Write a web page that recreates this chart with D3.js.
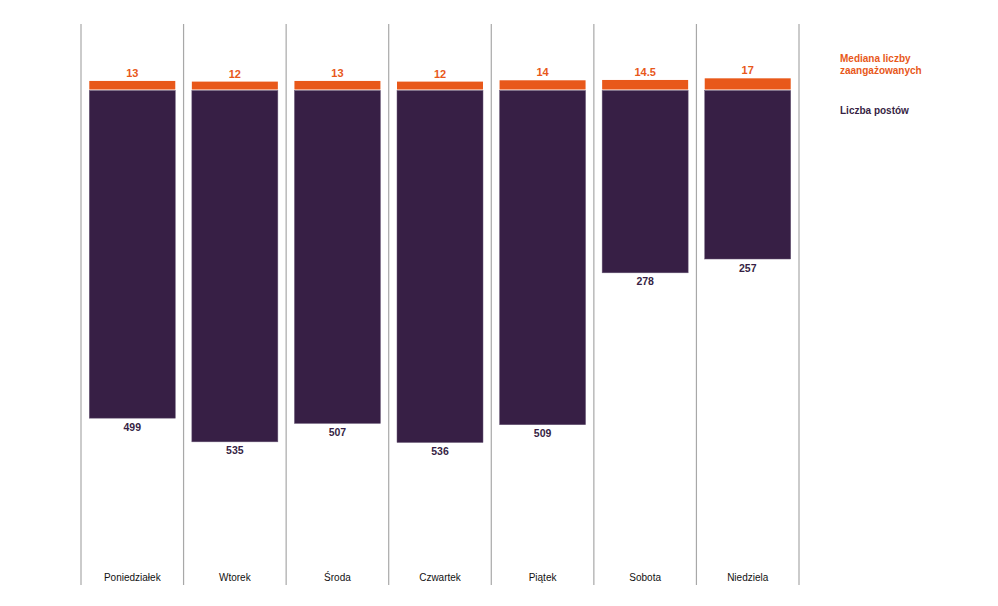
<!DOCTYPE html>
<html><head><meta charset="utf-8">
<script src="https://cdn.jsdelivr.net/npm/d3@7"></script>
<style>body{margin:0;background:#fff}svg{display:block;font-family:"Liberation Sans",Arial,sans-serif}</style>
</head><body><svg id="c" width="998" height="606"></svg>
<script>
const days = ["Poniedziałek","Wtorek","Środa","Czwartek","Piątek","Sobota","Niedziela"];
const posts = [499,535,507,536,509,278,257];
const medians = [13,12,13,12,14,14.5,17];
const medianLabels = ["13","12","13","12","14","14.5","17"];
const legendItems = [["Mediana liczby","zaangażowanych"],["Liczba postów"]];

const svg = d3.select("#c");
const orange = "#e8581a", purple = "#371f45";
const x = d3.scaleBand().domain(days).range([81,799]).paddingInner(0).paddingOuter(0);
const base = 90;
const y = d3.scaleLinear().domain([0,536]).range([0,352.5]);
const bw = 86, off = (x.bandwidth()-bw)/2;

// gridlines
const edges = days.map(d=>x(d)).concat([x.range()[1]]);
svg.selectAll("line.g").data(edges).join("line")
  .attr("x1",d=>d).attr("x2",d=>d).attr("y1",24).attr("y2",585)
  .attr("stroke","#a8a8a8").attr("stroke-width",1.2);

const g = svg.selectAll("g.col").data(days).join("g").attr("transform",d=>`translate(${x(d)+off},0)`);
g.append("rect").attr("x",0).attr("width",bw).attr("y",base+0.5)
  .attr("height",(d,i)=>y(posts[i])-0.5).attr("fill",purple).attr("stroke","#6b5a78").attr("stroke-width",0.5);
g.append("rect").attr("x",0).attr("width",bw).attr("y",(d,i)=>base-0.5-y(medians[i]))
  .attr("height",(d,i)=>y(medians[i])).attr("fill",orange);
g.append("text").attr("x",bw/2).attr("y",(d,i)=>base-0.5-y(medians[i])-4)
  .attr("text-anchor","middle").attr("font-size",11).attr("font-weight","bold").attr("fill",orange)
  .text((d,i)=>medianLabels[i]);
g.append("text").attr("x",bw/2).attr("y",(d,i)=>base+y(posts[i])+12.5)
  .attr("text-anchor","middle").attr("font-size",10.5).attr("font-weight","bold").attr("fill",purple)
  .text((d,i)=>posts[i]);
g.append("text").attr("x",bw/2).attr("y",581)
  .attr("text-anchor","middle").attr("font-size",10).attr("fill","#111").text(d=>d);

// legend
const lg = svg.append("g").attr("font-size",10).attr("font-weight","bold");
legendItems[0].forEach((t,i)=>lg.append("text").attr("x",840).attr("y",62+i*12).attr("fill",orange).text(t));
lg.append("text").attr("x",840).attr("y",114).attr("fill",purple).text(legendItems[1][0]);
</script></body></html>
